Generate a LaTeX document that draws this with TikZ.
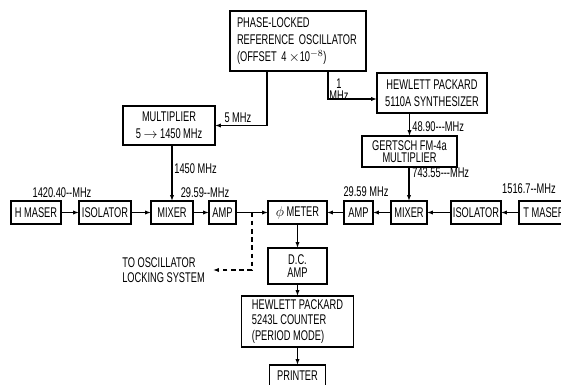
\documentclass[tikz,border=0pt]{standalone}
\usepackage{fontspec}
\setmainfont{Liberation Sans}[FakeStretch=0.66]
\usepackage{tikz}
\usetikzlibrary{positioning,arrows.meta,calc}
\newcommand{\unitfont}{\fontsize{12}{14.5}\selectfont}
\newcommand{\tightfont}{\fontsize{12}{10.5}\selectfont}
\tikzset{
  blk/.style={draw, line width=1.1pt, minimum height=6.9mm, inner sep=1pt,
              outer sep=0pt, align=center, font=\unitfont},
  lbl/.style={inner sep=1pt, font=\unitfont},
  arr/.style={-{Latex[length=5pt,width=3.6pt]}, line width=1pt},
  lockline/.style={arr, dash pattern=on 4pt off 3pt}
}

\begin{document}
\begin{tikzpicture}[x=0.3mm, y=-0.3mm]
  \useasboundingbox (0,0) rectangle (561,385);
  \clip (0,0) rectangle (561,385);

  % Reference and synthesizer chain
  \node[blk, minimum width=40.8mm, minimum height=18mm, text width=36.6mm,
        align=left] (refosc) at (298,41)
        {PHASE-LOCKED\\REFERENCE OSCILLATOR\\(OFFSET 4\,$\times$10$^{-8}$)};
  \node[blk, minimum width=27.6mm, minimum height=11.7mm] (multiplier) at (169,125.5)
        {MULTIPLIER\\5 $\rightarrow$ 1450\,MHz};
  \node[blk, minimum width=33mm, minimum height=12mm] (synth) at (432,93)
        {HEWLETT PACKARD\\5110A SYNTHESIZER};
  \node[blk, font=\tightfont, minimum width=28.5mm, minimum height=9.3mm] (gertsch)
        at (409.5,151.5) {GERTSCH FM-4a\\MULTIPLIER};

  % H maser side
  \node[blk, minimum width=15mm] (hmaser) at (36,212.5) {H MASER};
  \node[blk, minimum width=15.6mm, right=5.4mm of hmaser] (iso1) {ISOLATOR};
  \node[blk, minimum width=12.6mm, right=6mm of iso1] (mixer1) {MIXER};
  \node[blk, minimum width=8.1mm, right=4.8mm of mixer1] (amp1) {AMP};
  \node[blk, minimum width=17.7mm, right=9.6mm of amp1] (phimeter) {$\phi$ METER};

  % T maser side
  \node[blk, minimum width=8.7mm, right=5.1mm of phimeter] (amp2) {AMP};
  \node[blk, minimum width=10.8mm, right=5.4mm of amp2] (mixer2) {MIXER};
  \node[blk, minimum width=15mm, right=7.2mm of mixer2] (iso2) {ISOLATOR};
  \node[blk, minimum width=15mm, right=5.4mm of iso2] (tmaser) {T MASER};

  % Readout chain
  \node[blk, font=\tightfont, minimum width=17.7mm, minimum height=10.8mm,
        below=7.2mm of phimeter] (dcamp) {D.C.\\AMP};
  \node[blk, minimum width=33.6mm, minimum height=15.3mm, align=left,
        font=\fontsize{12}{13.6}\selectfont, below=3.6mm of dcamp] (counter)
        {HEWLETT PACKARD\\5243L COUNTER\\(PERIOD MODE)};
  \node[blk, minimum width=16.8mm, minimum height=6.3mm, below=5.4mm of counter]
        (printer) {PRINTER};

  % Frequency labels
  \node[lbl] (fhmaser) at (62,193) {1420.40-{}-MHz};
  \node[lbl] (fmix1) at (205,193) {29.59-{}-MHz};
  \node[lbl, anchor=west] (fmult) at (173,169) {1450 MHz};
  \node[lbl] (fref5) at (238,118) {5\,MHz};
  \node[lbl, align=center, font=\tightfont] (fref1) at (339,90) {1\\MHz};
  \node[lbl, anchor=west] (fsynth) at (411,127) {48.90-{}-{}-MHz};
  \node[lbl, anchor=west] (fgertsch) at (411,173) {743.55-{}-{}-MHz};
  \node[lbl] (fmix2) at (366,192) {29.59 MHz};
  \node[lbl] (ftmaser) at (529,189) {1516.7-{}-MHz};
  \node[lbl, align=left, anchor=east, inner xsep=2.4mm,
        font=\fontsize{12}{12.5}\selectfont] (locking) at (213,270)
        {TO OSCILLATOR\\LOCKING SYSTEM};

  % Connectors
  \draw[arr] ([xshift=-9.3mm]refosc.south) |- (multiplier.east);
  \draw[arr] ([xshift=9mm]refosc.south) |- ([yshift=-1.8mm]synth.west);
  \draw[arr] (synth.south -| gertsch.north) -- (gertsch.north);
  \draw[arr] (gertsch.south -| mixer2.north) -- (mixer2.north);
  \draw[arr] (multiplier.south -| mixer1.north) -- (mixer1.north);

  \draw[arr] (hmaser.east) -- (iso1.west);
  \draw[arr] (iso1.east) -- (mixer1.west);
  \draw[arr] (mixer1.east) -- (amp1.west);
  \draw[arr] (amp1.east) -- (phimeter.west);
  \draw[arr] (tmaser.west) -- (iso2.east);
  \draw[arr] (iso2.west) -- (mixer2.east);
  \draw[arr] (mixer2.west) -- (amp2.east);
  \draw[arr] (amp2.west) -- (phimeter.east);

  \draw[arr] (phimeter) -- (dcamp);
  \draw[arr] (dcamp) -- (counter);
  \draw[arr] (counter) -- (printer);

  \coordinate (tap) at ($(amp1.east)!0.5!(phimeter.west)$);
  \draw[lockline] (tap) |- (locking.east);
\end{tikzpicture}
\end{document}
